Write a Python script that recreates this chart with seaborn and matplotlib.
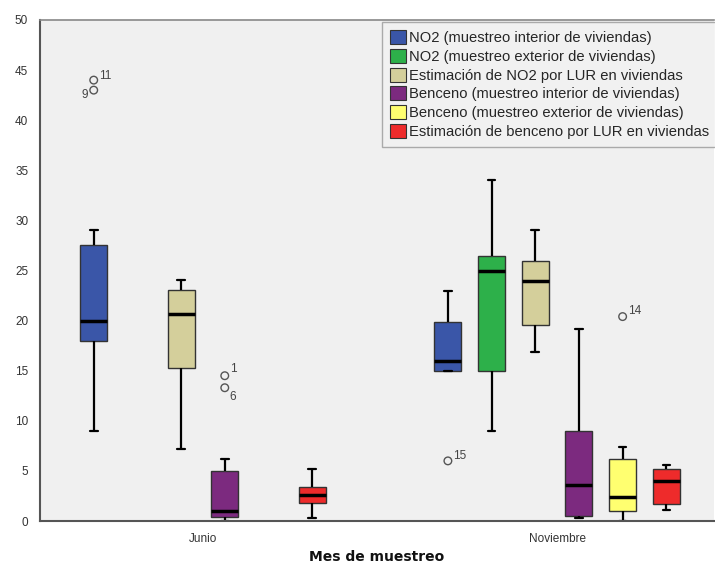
import numpy as np
import pandas as pd
import seaborn as sns
import matplotlib.pyplot as plt
from matplotlib.patches import Patch

# ---- data (five-number summaries) ----
meses = ['Junio', 'Noviembre']
variables = ['NO2 (muestreo interior de viviendas)',
             'NO2 (muestreo exterior de viviendas)',
             'Estimación de NO2 por LUR en viviendas',
             'Benceno (muestreo interior de viviendas)',
             'Benceno (muestreo exterior de viviendas)',
             'Estimación de benceno por LUR en viviendas']
colores = ['#3A56A8', '#2DB04A', '#D4CF9B', '#7C2A7F', '#FFFF70', '#EE2B2B']

# [whisker low, Q1, median, Q3, whisker high]; None = no box
junio = [[9.0, 18.0, 20.0, 27.5, 29.0],
         None,
         [7.2, 15.3, 20.7, 23.1, 24.1],
         [0.0, 0.4, 1.0, 5.0, 6.2],
         None,
         [0.3, 1.8, 2.6, 3.4, 5.2]]
noviembre = [[15.0, 15.0, 16.0, 19.9, 23.0],
             [9.0, 15.0, 25.0, 26.4, 34.0],
             [16.9, 19.6, 24.0, 25.9, 29.0],
             [0.3, 0.5, 3.6, 9.0, 19.2],
             [0.0, 1.0, 2.4, 6.2, 7.4],
             [1.1, 1.7, 4.0, 5.2, 5.6]]

# outliers: mes, variable index, value, case label
out_mes = ['Junio', 'Junio', 'Junio', 'Junio', 'Noviembre', 'Noviembre']
out_var = [0, 0, 3, 3, 0, 4]
out_val = [44.0, 43.0, 14.5, 13.3, 6.0, 20.4]
out_lab = ['11', '9', '1', '6', '15', '14']


def build_table():
    rows = []
    for mes, grupos in zip(meses, [junio, noviembre]):
        for var, vals in zip(variables, grupos):
            if vals is None:
                continue
            for v in vals:
                rows.append({'Mes': mes, 'Variable': var, 'Valor': v})
    return pd.DataFrame(rows)


df = build_table()

sns.set_style('white')
plt.rcParams['font.family'] = ['Liberation Sans', 'DejaVu Sans']

fig = plt.figure(figsize=(7.15, 5.65), dpi=100)
ax = fig.add_axes([40 / 715, 44 / 565, 674 / 715, 501 / 565])
ax.set_facecolor('#F0F0F0')

width = 0.74
gap = 0.38
sns.boxplot(data=df, x='Mes', y='Valor', hue='Variable',
            order=meses, hue_order=variables, palette=colores, saturation=1,
            width=width, gap=gap, whis=(0, 100), dodge=True,
            linewidth=1, linecolor='#333333', showfliers=False,
            medianprops=dict(color='black', linewidth=2.5),
            whiskerprops=dict(color='black', linewidth=1.6),
            capprops=dict(color='black', linewidth=1.6),
            legend=False, ax=ax)

# shorten whisker caps
slot = width / len(variables)
box_w = slot * (1 - gap)
for ln in ax.lines:
    xd = np.asarray(ln.get_xdata(), dtype=float)
    yd = np.asarray(ln.get_ydata(), dtype=float)
    if len(xd) == 2 and yd[0] == yd[1]:
        w = abs(xd[1] - xd[0])
        if abs(w - box_w * 0.5) < 1e-6:
            c = xd.mean()
            ln.set_xdata([c - box_w * 0.14, c + box_w * 0.14])

# outliers with their case numbers
offsets = {'11': (4, 1), '9': (-9, -6), '1': (4, 3), '6': (3, -9),
           '15': (4, 1), '14': (4, 2)}
for mes, vi, val, lab in zip(out_mes, out_var, out_val, out_lab):
    xc = meses.index(mes) - width / 2 + slot / 2 + vi * slot
    ax.scatter([xc], [val], s=30, facecolors='none', edgecolors='#555555',
               linewidths=1, zorder=5)
    ax.annotate(lab, (xc, val), xytext=offsets[lab], textcoords='offset points',
                fontsize=8.5, color='#444444')

ax.set_xlim(-0.46, 1.443)
ax.set_ylim(0, 50)
ax.set_yticks(range(0, 51, 5))
ax.set_ylabel('')
ax.set_xlabel('Mes de muestreo', fontsize=10, fontweight='bold',
              family='DejaVu Sans', color='#111111', labelpad=3)
ax.tick_params(axis='both', direction='out', length=5, width=1,
               color='#555555', labelsize=8.5, labelcolor='#333333')
ax.tick_params(axis='x', pad=4)

for s in ['left', 'bottom']:
    ax.spines[s].set_color('#555555')
    ax.spines[s].set_linewidth(1.5)
ax.spines['top'].set_color('#888888')
ax.spines['top'].set_linewidth(1.2)
ax.spines['right'].set_visible(False)

handles = [Patch(facecolor=c, edgecolor='#333333', linewidth=0.8) for c in colores]
leg = ax.legend(handles, variables, loc='upper left',
                bbox_to_anchor=(0.508, 0.996), borderaxespad=0,
                fontsize=10.6, handlelength=1.05, handleheight=1.1,
                handletextpad=0.2, labelspacing=0.25, borderpad=0.55,
                frameon=True, fancybox=False)
leg.get_frame().set_facecolor('#F2F2F2')
leg.get_frame().set_edgecolor('#999999')

fig.savefig('out.png', dpi=100)
